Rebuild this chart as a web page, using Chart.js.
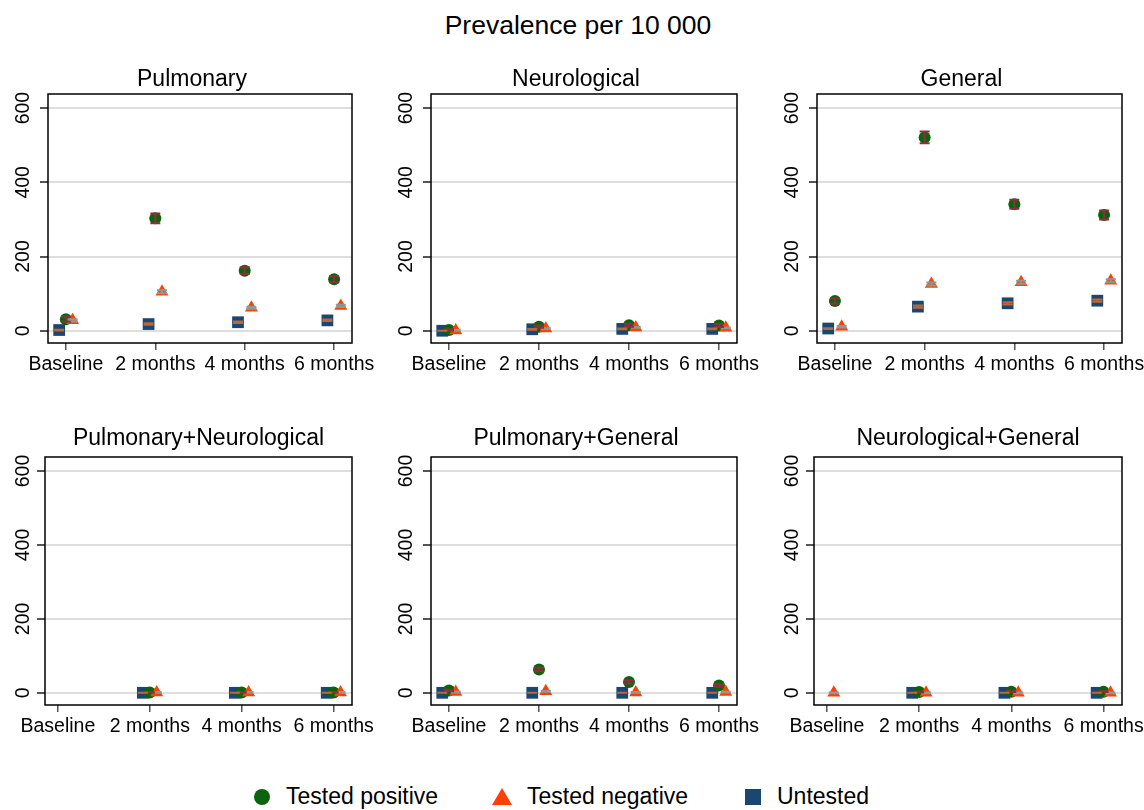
<!DOCTYPE html>
<html>
<head>
<meta charset="utf-8">
<script src="https://cdn.jsdelivr.net/npm/chart.js@4"></script>
<style>
  body { margin: 0; background: #fff; width: 1144px; height: 810px; overflow: hidden; position: relative; font-family: "Liberation Sans", Arial, sans-serif; }
  canvas { position: absolute; }
  #title { position: absolute; left: 6px; width: 1144px; top: 10px; text-align: center; font-size: 26.5px; color: #000; }
  .leg { position: absolute; top: 783px; font-size: 23px; color: #000; white-space: nowrap; }
  .mk { position: absolute; }
</style>
</head>
<body>
<div id="title">Prevalence per 10 000</div>

<div class="mk" style="left:254px;top:789px;width:16px;height:16px;border-radius:50%;background:#0b640b"></div>
<div class="leg" style="left:286px">Tested positive</div>
<div class="mk" style="left:492px;top:788px;width:0;height:0;border-left:10px solid transparent;border-right:10px solid transparent;border-bottom:17px solid #ff4000"></div>
<div class="leg" style="left:527px">Tested negative</div>
<div class="mk" style="left:745px;top:789px;width:16px;height:16px;background:#1a476f"></div>
<div class="leg" style="left:777px">Untested</div>

<script>
// categories and panels
var categories = ["Baseline", "2 months", "4 months", "6 months"];
var panels = ["Pulmonary", "Neurological", "General",
  "Pulmonary+Neurological", "Pulmonary+General", "Neurological+General"];
var yTicks = [0, 200, 400, 600];

// prevalence per 10 000, one row per panel (null = not shown)
var positive = [[31, 303, 162, 139], [2, 11, 15, 14], [80, 521, 341, 312],
  [null, 1, 1, 1], [6, 63, 29, 20], [null, 2, 3, 3]];
var positiveErr = [[7, 13, 9, 8], [2, 3, 4, 4], [7, 16, 12, 12],
  [null, 1, 1, 1], [2, 5, 4, 3], [null, 1, 1, 1]];

var negative = [[28, 105, 62, 67], [1, 6, 9, 8], [11, 126, 131, 135],
  [null, 1, 1, 1], [2, 4, 1, 2], [0, 0, 0, 0]];
var negativeErr = [[3, 4, 3, 3], [1, 1, 1, 1], [2, 4, 4, 4],
  [null, 1, 1, 1], [1, 1, 1, 1], [1, 1, 1, 1]];

var untested = [[2, 18, 23, 28], [0, 4, 5, 5], [6, 65, 74, 81],
  [null, 0, 0, 0], [0, 0, 0, 0], [null, 0, 0, 0]];
var untestedErr = [[1, 2, 2, 2], [0, 1, 1, 1], [1, 3, 3, 3],
  [null, 0, 0, 0], [0, 0, 0, 0], [null, 0, 0, 0]];

// layout of the 2x3 grid
var plotLeft = [48, 431, 817];
var plotRight = [352, 737, 1122];
var rowTop = [94, 457];
var rowBottom = [343, 705];
var canvasTop = [55, 410];
var titleBase = [86, 445];
var FONT = "'Liberation Sans', Arial, sans-serif";

function points(vals, errs, shift) {
  var out = [];
  vals.forEach(function (v, i) {
    if (v !== null) out.push({x: i + 1 + shift, y: v, e: errs[i]});
  });
  return out;
}

// error bars (capped spikes) drawn through the scales
var errorBars = {
  id: "errorBars",
  afterDatasetsDraw: function (chart) {
    var ctx = chart.ctx, y = chart.scales.y;
    ctx.save();
    chart.data.datasets.forEach(function (ds, di) {
      var meta = chart.getDatasetMeta(di);
      ctx.strokeStyle = ds.errColor;
      ctx.lineWidth = 2;
      meta.data.forEach(function (pt, i) {
        var p = ds.data[i];
        if (!p || p.e === null || p.e === undefined) return;
        var lo = y.getPixelForValue(p.y - p.e), hi = y.getPixelForValue(p.y + p.e);
        ctx.beginPath();
        ctx.moveTo(pt.x, lo); ctx.lineTo(pt.x, hi);
        ctx.moveTo(pt.x - 5, lo); ctx.lineTo(pt.x + 5, lo);
        ctx.moveTo(pt.x - 5, hi); ctx.lineTo(pt.x + 5, hi);
        ctx.stroke();
      });
    });
    ctx.restore();
  }
};

// plot box, panel title and rotated y labels
var frame = {
  id: "frame",
  beforeDatasetsDraw: function (chart) {
    var a = chart.chartArea, ctx = chart.ctx;
    ctx.save();
    ctx.strokeStyle = "#000";
    ctx.lineWidth = 1.5;
    ctx.strokeRect(a.left, a.top, a.right - a.left, a.bottom - a.top);
    ctx.restore();
  },
  afterDraw: function (chart) {
    var ctx = chart.ctx, y = chart.scales.y, a = chart.chartArea;
    var o = chart.options.panel;
    ctx.save();
    ctx.fillStyle = "#000";
    ctx.font = "23px " + FONT;
    ctx.textAlign = "center";
    ctx.textBaseline = "alphabetic";
    ctx.fillText(o.name, o.titleX, o.titleY);

    ctx.font = "19.5px " + FONT;
    ctx.textBaseline = "middle";
    yTicks.forEach(function (t) {
      ctx.save();
      ctx.translate(24, y.getPixelForValue(t));
      ctx.rotate(-Math.PI / 2);
      ctx.fillText(String(t), 0, 0);
      ctx.restore();
    });
    ctx.restore();
  }
};

panels.forEach(function (name, p) {
  var r = Math.floor(p / 3), c = p % 3;
  var left = plotLeft[c] - 48;
  var width = 48 + (plotRight[c] - plotLeft[c]) + 30;
  var height = rowBottom[r] - canvasTop[r] + 44;
  var hasBaseline = positive[p][0] !== null || untested[p][0] !== null;
  var axisW = hasBaseline ? 48 : 45;
  var plotCenter = (axisW + 48 + (plotRight[c] - plotLeft[c])) / 2;

  var cv = document.createElement("canvas");
  cv.width = width; cv.height = height;
  cv.style.left = left + "px"; cv.style.top = canvasTop[r] + "px";
  document.body.appendChild(cv);

  new Chart(cv, {
    type: "scatter",
    data: {
      datasets: [{
        label: "Tested negative",
        data: points(negative[p], negativeErr[p], 0.075),
        pointStyle: "triangle", pointRadius: 7.5, pointHoverRadius: 7.5,
        backgroundColor: "#ff4000", borderWidth: 0,
        errColor: "#8a9a96", order: 1
      }, {
        label: "Tested positive",
        data: points(positive[p], positiveErr[p], 0),
        pointStyle: "circle", pointRadius: 6, pointHoverRadius: 6,
        backgroundColor: "#0b640b", borderWidth: 0,
        errColor: "#8b3040", order: 2
      }, {
        label: "Untested",
        data: points(untested[p], untestedErr[p], -0.075),
        pointStyle: "rect", pointRadius: 8.3, pointHoverRadius: 8.3,
        backgroundColor: "#1a476f", borderWidth: 0,
        errColor: "#c0653a", order: 3
      }]
    },
    options: {
      responsive: false,
      devicePixelRatio: 1,
      animation: false,
      panel: {
        name: name,
        titleX: plotCenter - (hasBaseline ? 8 : 0),
        titleY: titleBase[r] - canvasTop[r]
      },
      layout: {padding: {left: 0, right: 30, top: rowTop[r] - canvasTop[r], bottom: 2}},
      plugins: {
        legend: {display: false},
        tooltip: {enabled: false},
        title: {display: false}
      },
      scales: {
        x: {
          type: "linear",
          min: hasBaseline ? 0.8 : 0.86,
          max: 4.2,
          afterBuildTicks: function (s) {
            s.ticks = categories.map(function (cat, i) { return {value: i + 1}; });
          },
          afterFit: function (s) { s.height = 42; },
          border: {display: false},
          grid: {drawOnChartArea: false, drawTicks: true, tickLength: 7, tickColor: "#555", lineWidth: 1.5},
          ticks: {
            autoSkip: false, maxRotation: 0, minRotation: 0, padding: 3,
            color: "#000",
            font: {family: FONT, size: 19.5},
            callback: function (v) { return categories[v - 1]; }
          }
        },
        y: {
          min: -33,
          max: 638,
          afterBuildTicks: function (s) {
            s.ticks = yTicks.map(function (v) { return {value: v}; });
          },
          afterFit: function (s) { s.width = axisW; },
          border: {display: false},
          grid: {color: "#dedede", lineWidth: 2, drawTicks: true, tickLength: 8, tickColor: "#555"},
          ticks: {display: false}
        }
      }
    },
    plugins: [frame, errorBars]
  });
});
</script>
</body>
</html>
